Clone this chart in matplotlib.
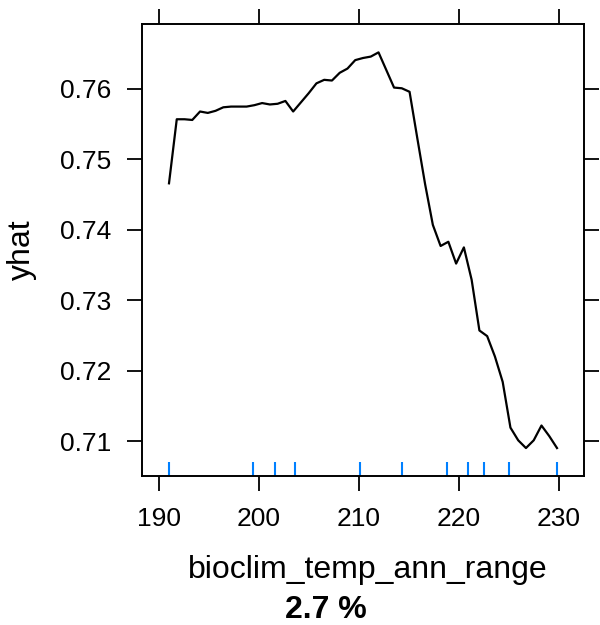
import matplotlib
matplotlib.use("Agg")
from matplotlib import pyplot as plt
import numpy as np

plt.rcParams['font.family'] = ['Liberation Sans', 'DejaVu Sans']

# partial dependence curve (grid of bioclim_temp_ann_range, predicted yhat)
gridStart = 191.0
gridStep = 0.776
yhat = [0.7466, 0.7557, 0.7557, 0.7556, 0.7568, 0.7566, 0.7569, 0.7574, 0.7575, 0.7575,
        0.7575, 0.7577, 0.7580, 0.7578, 0.7579, 0.7583, 0.7568, 0.7581, 0.7594, 0.7608,
        0.7613, 0.7612, 0.7623, 0.7629, 0.7641, 0.7644, 0.7646, 0.7652, 0.7627, 0.7602,
        0.7601, 0.7596, 0.7530, 0.7465, 0.7407, 0.7377, 0.7383, 0.7352, 0.7375, 0.7329,
        0.7257, 0.7249, 0.7220, 0.7184, 0.7119, 0.7101, 0.7090, 0.7101, 0.7122, 0.7107,
        0.7090]
gridX = [gridStart + gridStep * i for i in range(len(yhat))]

# rug at deciles of the data
rugX = [191.0, 199.4, 201.6, 203.6, 210.1, 214.3, 218.8, 220.9, 222.5, 225.0, 229.8]

xTicks = [190, 200, 210, 220, 230]
yTicks = [0.71, 0.72, 0.73, 0.74, 0.75, 0.76]
yTickLabels = ["0.71", "0.72", "0.73", "0.74", "0.75", "0.76"]

xLabel = "bioclim_temp_ann_range"
yLabel = "yhat"
importanceLabel = "2.7 %"

fig = plt.figure(figsize=(6, 6.25), dpi=100)
ax = fig.add_axes([142 / 600, 1 - 476 / 625, 442 / 600, 452 / 625])

ax.plot(gridX, yhat, color="black", linewidth=1.6)

ax.set_xlim(188.3, 232.5)
ax.set_ylim(0.70503, 0.76923)

# rug marks along the bottom
ax.vlines(rugX, 0, 0.031, transform=ax.get_xaxis_transform(), color="#0080ff", linewidth=1.5)

ax.set_xticks(xTicks)
ax.set_yticks(yTicks)
ax.set_yticklabels(yTickLabels)
ax.tick_params(axis="both", direction="out", length=11, width=1.3, labelsize=19,
               top=True, right=True, labeltop=False, labelright=False, color="black")
ax.tick_params(axis="y", pad=11)
ax.tick_params(axis="x", pad=11)
for s in ax.spines.values():
    s.set_linewidth(1.4)

fig.text(22 / 600, 1 - 250 / 625, yLabel, ha="center", va="center", rotation=90, fontsize=23)
fig.text(368 / 600, 1 - 578 / 625, xLabel, ha="center", va="baseline", fontsize=23)
fig.text(326 / 600, 1 - 618 / 625, importanceLabel, ha="center", va="baseline",
         fontsize=23, fontweight="bold")

fig.savefig("out.png", dpi=100)
